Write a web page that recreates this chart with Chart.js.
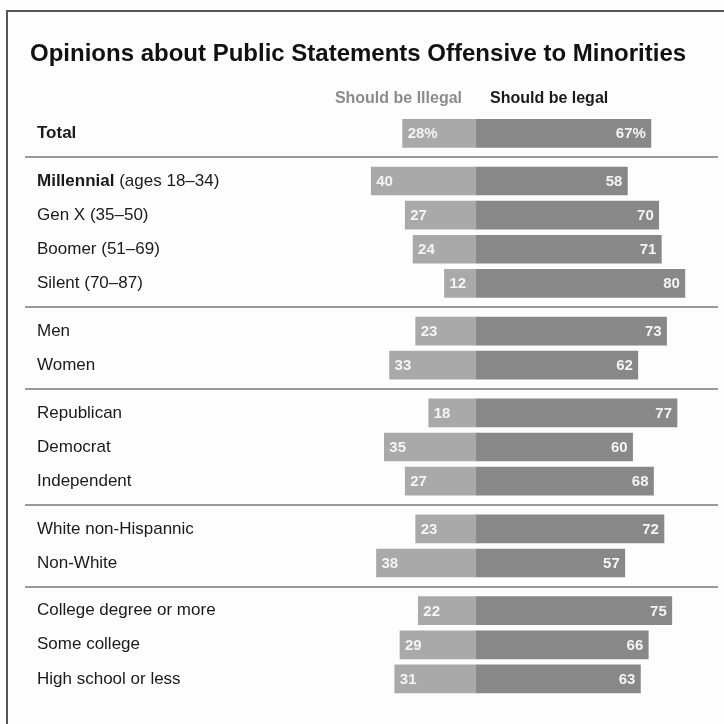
<!DOCTYPE html><html>
<meta charset="UTF-8">
<script src="https://cdn.jsdelivr.net/npm/chart.js@4"></script>
<style>
 body{margin:0;background:#fff}
 #wrap{width:724px;height:724px}
</style>
<div id="wrap"><canvas id="opinions"></canvas></div>
<script>
// rows, top to bottom
var rowLabels = ["Total","Millennial (ages 18\u201334)","Gen X (35\u201350)","Boomer (51\u201369)","Silent (70\u201387)",
  "Men","Women","Republican","Democrat","Independent","White non-Hispannic","Non-White",
  "College degree or more","Some college","High school or less"];
var rowGroup = [0,1,1,1,1,2,2,3,3,3,4,4,5,5,5];
var shouldBeIllegal = [28,40,27,24,12,23,33,18,35,27,23,38,22,29,31];
var shouldBeLegal   = [67,58,70,71,80,73,62,77,60,68,72,57,75,66,63];
var seriesNames = ["Should be Illegal","Should be legal"];
var chartTitle = "Opinions about Public Statements Offensive to Minorities";

var FONT = '"Liberation Sans", Arial, sans-serif';
var LIGHT = '#a9a9a9', DARK = '#888888';

// row position: one unit per row plus a little gap between groups
function rowPos(i){ return i + rowGroup[i]*0.4; }

var decor = {
 id:'decor',
 beforeDraw:function(chart){
  var c = chart.ctx;
  c.save();
  c.fillStyle = '#fdfdfd';
  c.fillRect(0,0,chart.width,chart.height);
  // frame
  c.strokeStyle = '#555'; c.lineWidth = 2;
  c.beginPath(); c.moveTo(7,724); c.lineTo(7,11); c.lineTo(724,11); c.stroke();
  // title
  c.fillStyle = '#111'; c.textBaseline = 'alphabetic'; c.textAlign = 'left';
  c.font = 'bold 24px ' + FONT;
  c.fillText(chartTitle, 30, 61);
  // column heads
  c.font = 'bold 16px ' + FONT;
  c.fillStyle = '#8c8c8c'; c.textAlign = 'right';
  c.fillText(seriesNames[0], 462, 103);
  c.fillStyle = '#1a1a1a'; c.textAlign = 'left';
  c.fillText(seriesNames[1], 490, 103);
  // separators between groups
  var y = chart.scales.y;
  c.strokeStyle = '#9a9a9a'; c.lineWidth = 2;
  for (var i = 0; i < rowGroup.length-1; i++){
   if (rowGroup[i] !== rowGroup[i+1]){
    var py = Math.round((y.getPixelForValue(rowPos(i)) + y.getPixelForValue(rowPos(i+1)))/2);
    c.beginPath(); c.moveTo(25,py); c.lineTo(718,py); c.stroke();
   }
  }
  c.restore();
 },
 afterDatasetsDraw:function(chart){
  var c = chart.ctx;
  c.save();
  c.textBaseline = 'middle';
  var left = chart.getDatasetMeta(0).data, right = chart.getDatasetMeta(1).data;
  for (var i = 0; i < rowLabels.length; i++){
   var py = left[i].y;
   // row label
   c.fillStyle = '#1a1a1a'; c.textAlign = 'left';
   if (i === 0){
    c.font = 'bold 17px ' + FONT; c.fillText(rowLabels[i], 37, py);
   } else if (i === 1){
    var parts = rowLabels[i].split(' (');
    c.font = 'bold 17px ' + FONT; c.fillText(parts[0], 37, py);
    var w = c.measureText(parts[0]).width;
    c.font = '17px ' + FONT; c.fillText(' (' + parts[1], 37 + w, py);
   } else {
    c.font = '17px ' + FONT; c.fillText(rowLabels[i], 37, py);
   }
   // values inside the bars
   var suf = i === 0 ? '%' : '';
   c.font = 'bold 15px ' + FONT;
   c.fillStyle = '#f4f4f4'; c.textAlign = 'left';
   c.fillText(shouldBeIllegal[i] + suf, left[i].x + 5, py + 1);
   c.textAlign = 'right';
   c.fillText(shouldBeLegal[i] + suf, right[i].x - 5, py + 1);
  }
  c.restore();
 }
};

new Chart(document.getElementById('opinions'), {
 type:'bar',
 data:{
  datasets:[{
   label: seriesNames[0],
   data: shouldBeIllegal.map(function(v,i){ return {x:-v, y:rowPos(i)}; }),
   backgroundColor: LIGHT
  },{
   label: seriesNames[1],
   data: shouldBeLegal.map(function(v,i){ return {x:v, y:rowPos(i)}; }),
   backgroundColor: DARK
  }]
 },
 options:{
  indexAxis:'y',
  responsive:true, maintainAspectRatio:false,
  animation:false,
  barThickness:28,
  layout:{padding:{left:319, right:13, top:31, bottom:11}},
  scales:{
   x:{type:'linear', min:-60, max:90, stacked:true, display:false, offset:false},
   y:{type:'linear', min:-3, max:17, reverse:true, stacked:true, display:false, offset:false}
  },
  plugins:{legend:{display:false}, tooltip:{enabled:false}, title:{display:false}}
 },
 plugins:[decor]
});
</script>
</html>
